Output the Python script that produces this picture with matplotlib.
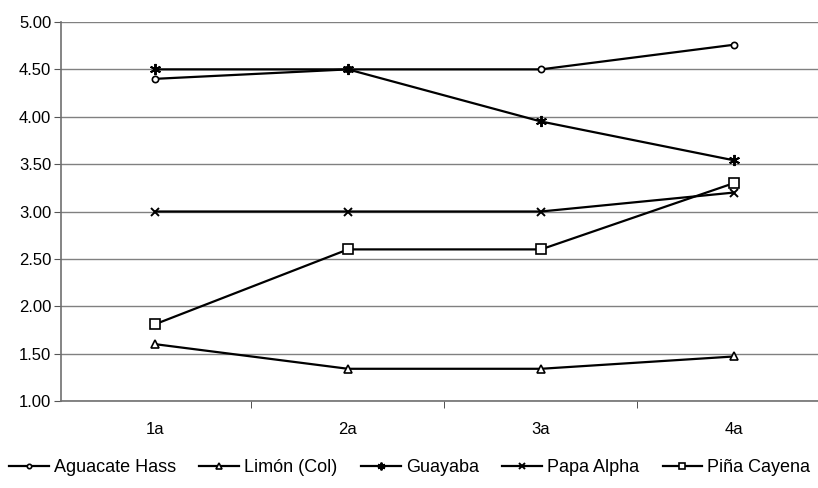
import matplotlib
matplotlib.use("Agg")
import matplotlib.pyplot as plt
import numpy as np

plt.rcParams['font.family'] = ['Liberation Sans', 'DejaVu Sans']

categories = ['1a', '2a', '3a', '4a']
aguacate = [4.40, 4.50, 4.50, 4.76]
limon = [1.60, 1.34, 1.34, 1.47]
guayaba = [4.50, 4.50, 3.95, 3.54]
papa = [3.00, 3.00, 3.00, 3.20]
pina = [1.81, 2.60, 2.60, 3.30]
names = ['Aguacate Hass', 'Limón (Col)', 'Guayaba', 'Papa Alpha', 'Piña Cayena']

fig = plt.figure(figsize=(8.18, 4.88), dpi=100)
# plot area runs past the right edge, as in the reference
ax = fig.add_axes([61/818, 1 - 401/488, 772/818, 379/488])

x = np.arange(len(categories))
ax.plot(x, aguacate, color='black', lw=1.6, marker='o', ms=4.5, mfc='white', mec='black', mew=1.2, label=names[0])
ax.plot(x, limon, color='black', lw=1.6, marker='^', ms=6, mfc='white', mec='black', mew=1.2, label=names[1])
ax.plot(x, guayaba, color='black', lw=1.6, marker=(6, 2, 0), ms=8, mec='black', mew=1.4, label=names[2])
ax.plot(x, papa, color='black', lw=1.6, marker='x', ms=6, mec='black', mew=1.4, label=names[3])
ax.plot(x, pina, color='black', lw=1.6, marker='s', ms=7, mfc='white', mec='black', mew=1.2, label=names[4])

ax.set_xlim(-0.487, 3.513)
ax.set_ylim(1.0, 5.0)
ax.set_yticks(np.arange(1.0, 5.01, 0.5))
ax.set_yticklabels(['%.2f' % v for v in np.arange(1.0, 5.01, 0.5)])
ax.set_xticks(x)
ax.set_xticklabels(categories)
ax.set_xticks(np.arange(0.5, 3.6, 1.0), minor=True)
ax.tick_params(axis='x', which='major', length=0, pad=15, labelsize=12)
ax.tick_params(axis='x', which='minor', length=5, direction='out', color='#333333')
ax.tick_params(axis='y', length=5, direction='out', color='#555555', labelsize=12, pad=2)
ax.yaxis.grid(True, color='#808080', lw=1)
ax.set_axisbelow(True)
for s in ['top', 'right']:
    ax.spines[s].set_visible(False)
for s in ['left', 'bottom']:
    ax.spines[s].set_color('#707070')
    ax.spines[s].set_linewidth(1.2)

fig.legend(loc='center left', bbox_to_anchor=(9/818, 1 - 468/488), ncol=5, frameon=False,
           fontsize=13, handlelength=2.2, handletextpad=0.28, columnspacing=1.3,
           borderaxespad=0, borderpad=0, markerscale=0.7)

fig.savefig('out.png', dpi=100)
